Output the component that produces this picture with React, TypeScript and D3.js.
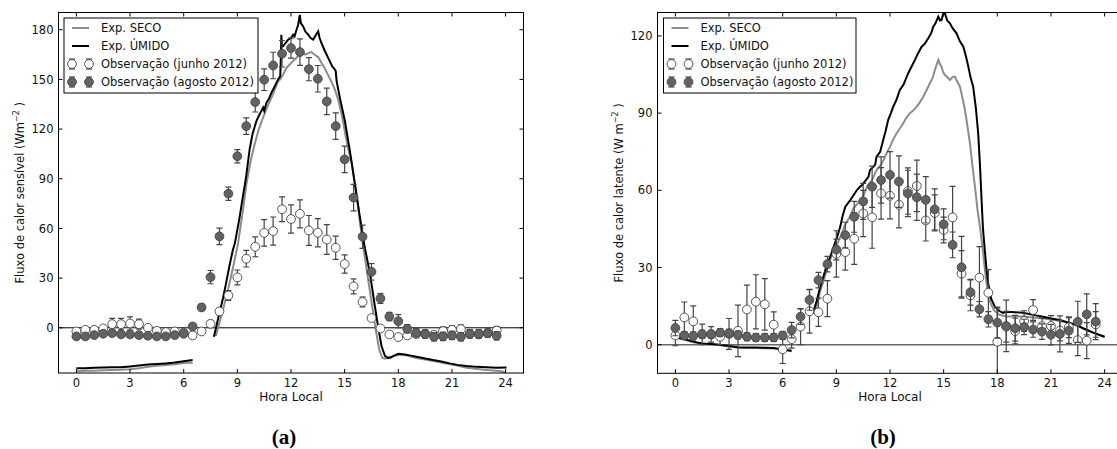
import React from 'react';
import * as d3 from 'd3';

// ---------- shared categories / ticks ----------
const halfHours = [0, 0.5, 1, 1.5, 2, 2.5, 3, 3.5, 4, 4.5, 5, 5.5, 6, 6.5, 7, 7.5, 8, 8.5, 9, 9.5, 10, 10.5, 11, 11.5,
  12, 12.5, 13, 13.5, 14, 14.5, 15, 15.5, 16, 16.5, 17, 17.5, 18, 18.5, 19, 19.5, 20, 20.5, 21, 21.5, 22, 22.5, 23, 23.5];
const xTicks = [0, 3, 6, 9, 12, 15, 18, 21, 24];
const yTicksA = [0, 30, 60, 90, 120, 150, 180];
const yTicksB = [0, 30, 60, 90, 120];
const legendLabels = ['Exp. SECO', 'Exp. ÚMIDO', 'Observação (junho 2012)', 'Observação (agosto 2012)'];

// ---------- panel (a): sensible heat flux ----------
const obsJunA = [-2.2, -1.2, -1.2, -0.4, 2.2, 2.2, 2.6, 2.2, 0, -1.8, -2.6, -2.2, -3, -4.6, -2.2, 2.4, 9.9, 19.5, 30.4, 41.7,
  48.9, 57.3, 58.4, 71.6, 65.7, 68.8, 58.8, 57.4, 53.3, 48.3, 38.5, 25, 15.6, 5.9, -0.4, -4, -5.6, -4.6, -3.8, -3.6,
  -4.2, -2, -1.3, -0.8, -3.8, -4, -3.2, -1.7];
const errJunA = [1.5, 1.5, 1.5, 1.5, 3.5, 3.5, 4, 3, 1.5, 1.5, 1.5, 1.5, 2, 2, 1.5, 2, 2, 3, 4.5, 5, 6, 8, 8.5, 7.5,
  8.5, 8.5, 9, 8.5, 9, 7, 5.5, 4.5, 3, 1.5, 1, 1.5, 1.5, 1.5, 2, 2, 2, 2.5, 2.5, 2.5, 2, 2, 2, 2.5];
const obsAgoA = [-5.2, -5.2, -4.4, -3.6, -3.2, -4, -4, -4.4, -4.8, -5.2, -5.2, -4.4, -3.6, 0.8, 12.3, 30.6, 55.2, 81, 103.6, 121.8,
  136.3, 149.8, 158.4, 165.5, 168.9, 166.5, 156.2, 150.4, 136.7, 121.8, 101.7, 78.6, 55, 33.8, 17.7, 6.8, 4, -0.6, -3, -3.8,
  -5.4, -5.2, -4.6, -5.4, -3.6, -3.6, -3.2, -4.8];
const errAgoA = [1.5, 1.5, 1.5, 1.5, 1.5, 1.5, 1.5, 1.5, 1.5, 1.5, 1.5, 1.5, 1.5, 1.5, 2, 4, 5, 4, 4, 5, 6, 6.5, 8, 8,
  6, 8, 7, 8, 8, 8, 8, 8, 7, 5, 3, 2.5, 4, 2.5, 2.5, 2.5, 2.5, 2.5, 2.5, 2.5, 2.5, 2.5, 2.5, 2.5];
const secoNightA: [number, number][] = [[0, -26.2], [0.5, -26], [1, -25.9], [1.5, -25.6], [2, -25.5], [2.5, -25.4], [3, -25],
  [3.5, -24.4], [4, -23.5], [4.5, -23], [5, -22.5], [5.5, -22], [6, -21.2], [6.3, -21], [6.5, -21.3]];
const secoDayA: [number, number][] = [[7.8, -5], [8.0, 3], [8.2, 11], [8.5, 24], [8.75, 36], [9.04, 51], [9.3, 70], [9.51, 87],
  [9.75, 101], [9.97, 111], [10.2, 120], [10.44, 127], [10.7, 134], [10.91, 139], [11.1, 144], [11.28, 149], [11.4, 150],
  [11.56, 153], [11.75, 157], [11.93, 159], [12.1, 161], [12.31, 163], [12.45, 165], [12.59, 166.5], [12.8, 165], [13.0, 166],
  [13.15, 166.5], [13.3, 165], [13.52, 163.5], [13.7, 160], [13.9, 156.4], [14.1, 152], [14.27, 148.4], [14.45, 144],
  [14.65, 137.4], [14.85, 128], [15.03, 117.3], [15.2, 108], [15.4, 99.2], [15.68, 79.1], [15.96, 55], [16.26, 33],
  [16.54, 13], [16.72, 0], [16.93, -13], [17.1, -18.1], [17.28, -18.7], [17.5, -17.8], [17.8, -16.8], [18.1, -16.3],
  [18.5, -16.8], [19.0, -18.3], [19.5, -19.2], [19.95, -20.1], [20.4, -21], [20.88, -22.1], [21.35, -23], [21.81, -24.1],
  [22.3, -24.8], [22.8, -25.3], [23.3, -25.8], [23.77, -26.2], [24.0, -27]];
const umidoNightA: [number, number][] = [[0, -24.5], [0.5, -24.4], [1, -24.2], [1.5, -24], [2, -23.8], [2.5, -23.9], [3, -23.4],
  [3.5, -22.8], [4, -22.2], [4.5, -21.9], [5, -21.5], [5.5, -21], [6, -20.2], [6.3, -19.7], [6.5, -19.5]];
const umidoDayA: [number, number][] = [[7.69, -5.4], [7.85, 2], [8.0, 9], [8.2, 18], [8.37, 27], [8.55, 37], [8.75, 47], [8.86, 51],
  [9.1, 65], [9.32, 80], [9.4, 85], [9.5, 92], [9.69, 108], [9.85, 117], [10.07, 125], [10.25, 129], [10.44, 133], [10.5, 131],
  [10.63, 136], [10.75, 138], [10.91, 142], [11.1, 146], [11.28, 150], [11.4, 152], [11.44, 166], [11.46, 177], [11.5, 170],
  [11.56, 170], [11.7, 172], [11.84, 174], [12.0, 175], [12.12, 177], [12.2, 176], [12.31, 180], [12.4, 183], [12.49, 189],
  [12.55, 184], [12.68, 182], [12.8, 179], [12.96, 177], [13.1, 175], [13.24, 174], [13.35, 176], [13.52, 179], [13.6, 175],
  [13.7, 172], [13.9, 167], [14.08, 163], [14.3, 158], [14.45, 156], [14.5, 155], [14.55, 149], [14.73, 139], [15.01, 125],
  [15.29, 107], [15.57, 87], [15.85, 67], [16.1, 50], [16.41, 33], [16.69, 13], [16.88, 0], [17.06, -11], [17.25, -17],
  [17.44, -18.3], [17.6, -17.8], [17.72, -17.1], [18.0, -15.7], [18.37, -16.1], [18.7, -16.8], [19.02, -17.5], [19.5, -18.5],
  [19.95, -19.5], [20.4, -20.3], [20.88, -21.5], [21.3, -22.4], [21.81, -23.1], [22.4, -23.6], [22.93, -23.9], [23.5, -24.2],
  [24.05, -24]];

// ---------- panel (b): latent heat flux ----------
const obsJunB = [3.6, 10.6, 9.1, 4, 4, 3.1, 4.2, 5.4, 13.7, 16.7, 15.7, 7.8, -1.8, 2.2, 7, 13, 12.6, 17.9, 35.3, 36,
  41.2, 51, 49.5, 58.8, 57.9, 54.4, 59.7, 61.7, 48.3, 51.2, 44.6, 49.5, 27.6, 19.2, 26.1, 20.2, 1.2, 7, 5.3, 9.2,
  13.5, 7.2, 7.3, 5.5, 6.8, 1.8, 1.6, 7.9];
const errJunB = [4, 6, 6, 4, 3, 3, 6, 10, 9.5, 10.5, 10, 5, 5.5, 3.5, 7, 8.5, 5.5, 7, 9, 7, 10, 9, 12, 10,
  9, 9, 9, 10, 8, 7, 5, 12, 9, 6, 12, 9, 13, 6, 5, 4, 4, 3, 4, 4, 4, 6, 7, 5];
const obsAgoB = [6.5, 3.6, 3.4, 4.1, 4.1, 4.7, 4.5, 3.8, 3.1, 2.8, 2.8, 2.8, 3.6, 5.7, 10.9, 17.4, 25.1, 31.3, 37, 42.6,
  49.7, 55.7, 61.4, 64, 66, 63.4, 58.8, 57.3, 56.3, 52.6, 46.8, 38.8, 30.1, 20.4, 13.8, 9.9, 8.6, 7.3, 6.4, 6.9,
  5.9, 5.1, 3.9, 4.2, 5.5, 8.9, 11.8, 9];
const errAgoB = [3, 1.5, 1.5, 1.5, 1.5, 1.5, 1.5, 1.5, 1.5, 1.5, 1.5, 1.5, 1.5, 3, 3, 4, 3, 3, 4, 5, 6, 7, 8, 9,
  9, 10, 9, 9, 9, 8, 6, 5, 12, 5, 3, 3, 6, 10, 5, 3, 3, 3, 4, 7, 5, 8, 8, 7];
const secoNightB: [number, number][] = [[0, 2.8], [0.5, 1.9], [1, 1], [1.5, 0.3], [2, 0.1], [2.5, -0.2], [3, -0.7], [3.5, -1.2],
  [4, -1.3], [4.5, -1.3], [5, -1.4], [5.5, -1.5], [6, -2], [6.5, -2.5]];
const secoDayB: [number, number][] = [[7.75, 12], [7.95, 16], [8.1, 21], [8.3, 25], [8.5, 30], [8.7, 34], [8.9, 37], [9.1, 40],
  [9.3, 43], [9.45, 46], [9.6, 48], [9.76, 49.7], [9.96, 53], [10.2, 55], [10.5, 57.5], [10.75, 62], [11.0, 64], [11.25, 67.9],
  [11.5, 70], [11.65, 72], [11.81, 74.4], [12.0, 77], [12.2, 80], [12.37, 82.2], [12.55, 84], [12.74, 86.1], [12.9, 88],
  [13.11, 90], [13.3, 91], [13.49, 92.5], [13.65, 94], [13.86, 96.4], [14.05, 99], [14.23, 101.6], [14.4, 104], [14.51, 106.8],
  [14.62, 109], [14.7, 110.7], [14.8, 109], [14.88, 108], [14.97, 106], [15.07, 104.8], [15.2, 104], [15.35, 102.9],
  [15.5, 104], [15.63, 104.2], [15.78, 102], [15.91, 100.3], [16.05, 96], [16.19, 91.2], [16.33, 85], [16.47, 78.3],
  [16.6, 70], [16.75, 61.4], [16.9, 52], [17.03, 45.9], [17.17, 38], [17.31, 29], [17.45, 21], [17.6, 16.5], [17.8, 13.5],
  [18.1, 11.7], [18.5, 11], [19.0, 11], [19.5, 11], [20.0, 10.6], [20.5, 10.3], [21.0, 9.8], [21.5, 9.2], [22.0, 8.4],
  [22.5, 7.3], [23.0, 5.6], [23.5, 4.3], [24.0, 3]];
const umidoNightB: [number, number][] = [[0, 3.1], [0.5, 2.2], [1, 1.2], [1.5, 0.5], [2, 0.3], [2.5, 0], [3, -0.5], [3.5, -1],
  [4, -1.1], [4.5, -1.1], [5, -1.2], [5.5, -1.3], [6, -1.8], [6.5, -2.3]];
const umidoDayB: [number, number][] = [[7.69, 12.2], [7.9, 17], [8.1, 22.5], [8.3, 27], [8.47, 31], [8.65, 34], [8.85, 38],
  [9.05, 42], [9.22, 45.9], [9.35, 50], [9.5, 53.6], [9.65, 55], [9.78, 56.2], [9.95, 58], [10.15, 60.1], [10.32, 61.4],
  [10.43, 62], [10.6, 63.5], [10.8, 65.3], [10.88, 67.9], [11.05, 69], [11.17, 70], [11.25, 73.1], [11.45, 75], [11.62, 79.6],
  [11.75, 83], [11.9, 87.4], [12.05, 90], [12.18, 92.5], [12.35, 95], [12.55, 99], [12.75, 101], [13.02, 105.5], [13.2, 108],
  [13.39, 110.6], [13.55, 113], [13.77, 115.8], [13.95, 117], [14.14, 119.1], [14.3, 121], [14.42, 123.6], [14.55, 125],
  [14.7, 127.5], [14.8, 126], [14.88, 126.2], [14.97, 128.5], [15.07, 128.8], [15.2, 126], [15.35, 124.9], [15.5, 123],
  [15.72, 121], [15.9, 118], [16.1, 115.8], [16.25, 112], [16.38, 108], [16.5, 104], [16.65, 100.3], [16.8, 92], [16.93, 82.2],
  [17.03, 70], [17.12, 56.2], [17.2, 45], [17.3, 36.8], [17.4, 29], [17.49, 23.9], [17.65, 18], [17.86, 14.8], [18.1, 13.2],
  [18.32, 12.4], [18.5, 12.8], [19.0, 12.6], [19.44, 12.4], [20.0, 11.6], [20.56, 10.9], [21.0, 10.2], [21.49, 9.6],
  [22.0, 8.6], [22.42, 7.7], [22.8, 6.4], [23.36, 4.7], [24.0, 3.1]];

const FONT = 'DejaVu Sans, Verdana, sans-serif';
const SECO_COLOR = '#8c8c8c';
const UMIDO_COLOR = '#000';
const DARK_FILL = '#626262';
const MARK_EDGE = '#444';
const ERR_COLOR = '#444';

type PanelProps = {
  id: string;
  left: number; right: number; top: number; bottom: number;
  yDomain: [number, number];
  yTicks: number[];
  obsJun: number[]; errJun: number[]; obsAgo: number[]; errAgo: number[];
  secoNight: [number, number][]; secoDay: [number, number][];
  umidoNight: [number, number][]; umidoDay: [number, number][];
  zeroColor: string; zeroWidth: number;
  yLabel: string; yUnit: string; yLabelX: number;
  legendX: number; legendW: number;
  tag: string; tagX: number;
};

function ErrPoint({ cx, cy, ylo, yhi, fill }: { cx: number; cy: number; ylo: number; yhi: number; fill: string }) {
  const cap = 3;
  return (
    <g>
      <line x1={cx} x2={cx} y1={ylo} y2={yhi} stroke={ERR_COLOR} strokeWidth={1.2} />
      <line x1={cx - cap} x2={cx + cap} y1={ylo} y2={ylo} stroke={ERR_COLOR} strokeWidth={1.2} />
      <line x1={cx - cap} x2={cx + cap} y1={yhi} y2={yhi} stroke={ERR_COLOR} strokeWidth={1.2} />
      <circle cx={cx} cy={cy} r={4.4} fill={fill} stroke={MARK_EDGE} strokeWidth={0.9} />
    </g>
  );
}

function Panel(p: PanelProps) {
  const x = d3.scaleLinear().domain([-1, 25]).range([p.left, p.right]);
  const y = d3.scaleLinear().domain(p.yDomain).range([p.bottom, p.top]);
  const line = d3.line<[number, number]>().x(d => x(d[0])).y(d => y(d[1]));
  const tick = 4;
  const clip = `clip-${p.id}`;
  const midY = (p.top + p.bottom) / 2;
  const lx = p.legendX, ly = 18, lh = 75;
  const rows = [10, 28, 46, 64];
  return (
    <g>
      <defs>
        <clipPath id={clip}>
          <rect x={p.left} y={p.top} width={p.right - p.left} height={p.bottom - p.top} />
        </clipPath>
      </defs>
      <g clipPath={`url(#${clip})`}>
        <line x1={p.left} x2={p.right} y1={y(0)} y2={y(0)} stroke={p.zeroColor} strokeWidth={p.zeroWidth} />
        <path d={line(p.secoNight) || ''} fill="none" stroke={SECO_COLOR} strokeWidth={2} />
        <path d={line(p.secoDay) || ''} fill="none" stroke={SECO_COLOR} strokeWidth={2} />
        <path d={line(p.umidoNight) || ''} fill="none" stroke={UMIDO_COLOR} strokeWidth={2} />
        <path d={line(p.umidoDay) || ''} fill="none" stroke={UMIDO_COLOR} strokeWidth={2} />
        {halfHours.map((h, i) => (
          <ErrPoint key={'j' + i} cx={x(h)} cy={y(p.obsJun[i])} ylo={y(p.obsJun[i] - p.errJun[i])}
            yhi={y(p.obsJun[i] + p.errJun[i])} fill="#fff" />
        ))}
        {halfHours.map((h, i) => (
          <ErrPoint key={'a' + i} cx={x(h)} cy={y(p.obsAgo[i])} ylo={y(p.obsAgo[i] - p.errAgo[i])}
            yhi={y(p.obsAgo[i] + p.errAgo[i])} fill={DARK_FILL} />
        ))}
      </g>
      {/* frame */}
      <rect x={p.left} y={p.top} width={p.right - p.left} height={p.bottom - p.top} fill="none" stroke="#000" strokeWidth={1} />
      {/* x ticks */}
      {xTicks.map(t => (
        <g key={'x' + t}>
          <line x1={x(t)} x2={x(t)} y1={p.bottom} y2={p.bottom - tick} stroke="#000" />
          <line x1={x(t)} x2={x(t)} y1={p.top} y2={p.top + tick} stroke="#000" />
          <text x={x(t)} y={p.bottom + 14} textAnchor="middle" fontFamily={FONT} fontSize={11.5} fill="#111">{t}</text>
        </g>
      ))}
      {/* y ticks */}
      {p.yTicks.map(t => (
        <g key={'y' + t}>
          <line x1={p.left} x2={p.left + tick} y1={y(t)} y2={y(t)} stroke="#000" />
          <line x1={p.right} x2={p.right - tick} y1={y(t)} y2={y(t)} stroke="#000" />
          <text x={p.left - 5} y={y(t)} dy="0.36em" textAnchor="end" fontFamily={FONT} fontSize={11.5} fill="#111">{t}</text>
        </g>
      ))}
      <text x={(x(0) + x(24)) / 2} y={p.bottom + 28} textAnchor="middle" fontFamily={FONT} fontSize={12} fill="#111">Hora Local</text>
      <text transform={`translate(${p.yLabelX},${midY}) rotate(-90)`} textAnchor="middle" fontFamily={FONT} fontSize={11.5} fill="#111">
        {p.yLabel}<tspan>{p.yUnit}</tspan><tspan fontSize={8} dy={-5}>−2</tspan><tspan dy={5}> )</tspan>
      </text>
      {/* legend */}
      <rect x={lx} y={ly} width={p.legendW} height={lh} fill="#fff" stroke="#000" strokeWidth={1} />
      <line x1={lx + 8} x2={lx + 25} y1={ly + rows[0]} y2={ly + rows[0]} stroke={SECO_COLOR} strokeWidth={2} />
      <line x1={lx + 8} x2={lx + 25} y1={ly + rows[1]} y2={ly + rows[1]} stroke={UMIDO_COLOR} strokeWidth={2} />
      {[lx + 8, lx + 25].map((mx, k) => (
        <g key={'lm' + k}>
          <ErrPoint cx={mx} cy={ly + rows[2]} ylo={ly + rows[2] + 5} yhi={ly + rows[2] - 5} fill="#fff" />
          <ErrPoint cx={mx} cy={ly + rows[3]} ylo={ly + rows[3] + 5} yhi={ly + rows[3] - 5} fill={DARK_FILL} />
        </g>
      ))}
      {legendLabels.map((s, i) => (
        <text key={s} x={lx + 37} y={ly + rows[i]} dy="0.36em" fontFamily={FONT} fontSize={11.5} fill="#111">{s}</text>
      ))}
      <text x={p.tagX} y={444} textAnchor="middle" fontFamily="Liberation Serif, Times New Roman, serif" fontWeight="bold" fontSize={21} fill="#000">{p.tag}</text>
    </g>
  );
}

export default function App() {
  return (
    <svg width={1117} height={449} viewBox="0 0 1117 449" style={{ position: 'absolute', left: 0, top: 0, background: '#fff' }}>
      <rect x={0} y={0} width={1117} height={449} fill="#fff" />
      <Panel id="a" left={58.5} right={523.5} top={12.5} bottom={373} yDomain={[-27.3, 190.4]} yTicks={yTicksA}
        obsJun={obsJunA} errJun={errJunA} obsAgo={obsAgoA} errAgo={errAgoA}
        secoNight={secoNightA} secoDay={secoDayA} umidoNight={umidoNightA} umidoDay={umidoDayA}
        zeroColor="#000" zeroWidth={1}
        yLabel="Fluxo de calor sensível (" yUnit="Wm" yLabelX={24}
        legendX={64} legendW={194} tag="(a)" tagX={284} />
      <Panel id="b" left={657.5} right={1122.5} top={12.5} bottom={373.3} yDomain={[-11.1, 129.1]} yTicks={yTicksB}
        obsJun={obsJunB} errJun={errJunB} obsAgo={obsAgoB} errAgo={errAgoB}
        secoNight={secoNightB} secoDay={secoDayB} umidoNight={umidoNightB} umidoDay={umidoDayB}
        zeroColor="#666" zeroWidth={1.5}
        yLabel="Fluxo de calor latente (" yUnit="W m" yLabelX={623}
        legendX={663.5} legendW={192.5} tag="(b)" tagX={883} />
    </svg>
  );
}
